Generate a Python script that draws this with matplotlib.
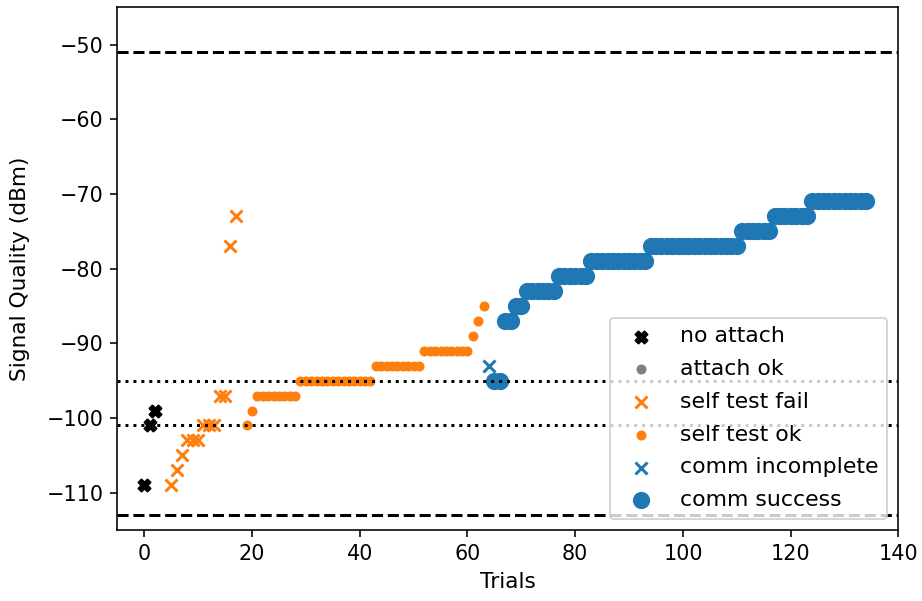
import matplotlib
matplotlib.use("Agg")
import matplotlib.pyplot as plt

# trials / signal quality (dBm) per outcome
no_attach_x = [0, 1, 2]
no_attach_y = [-109, -101, -99]

attach_ok_x = []
attach_ok_y = []

self_fail_x = [5, 6, 7, 8, 9, 10, 11, 12, 13, 14, 15, 16, 17]
self_fail_y = [-109, -107, -105, -103, -103, -103, -101, -101, -101, -97, -97, -77, -73]

self_ok_x = [19, 20,
             21, 22, 23, 24, 25, 26, 27, 28,
             29, 30, 31, 32, 33, 34, 35, 36, 37, 38, 39, 40, 41, 42,
             43, 44, 45, 46, 47, 48, 49, 50, 51,
             52, 53, 54, 55, 56, 57, 58, 59, 60,
             61, 62, 63]
self_ok_y = [-101, -99,
             -97, -97, -97, -97, -97, -97, -97, -97,
             -95, -95, -95, -95, -95, -95, -95, -95, -95, -95, -95, -95, -95, -95,
             -93, -93, -93, -93, -93, -93, -93, -93, -93,
             -91, -91, -91, -91, -91, -91, -91, -91, -91,
             -89, -87, -85]

comm_inc_x = [64]
comm_inc_y = [-93]

comm_ok_x = [65, 66, 67, 68, 69, 70,
             71, 72, 73, 74, 75, 76,
             77, 78, 79, 80, 81, 82,
             83, 84, 85, 86, 87, 88, 89, 90, 91, 92, 93,
             94, 95, 96, 97, 98, 99, 100, 101, 102, 103, 104, 105, 106, 107, 108, 109, 110,
             111, 112, 113, 114, 115, 116,
             117, 118, 119, 120, 121, 122, 123,
             124, 125, 126, 127, 128, 129, 130, 131, 132, 133, 134]
comm_ok_y = [-95, -95, -87, -87, -85, -85,
             -83, -83, -83, -83, -83, -83,
             -81, -81, -81, -81, -81, -81,
             -79, -79, -79, -79, -79, -79, -79, -79, -79, -79, -79,
             -77, -77, -77, -77, -77, -77, -77, -77, -77, -77, -77, -77, -77, -77, -77, -77, -77,
             -75, -75, -75, -75, -75, -75,
             -73, -73, -73, -73, -73, -73, -73,
             -71, -71, -71, -71, -71, -71, -71, -71, -71, -71, -71]

# reference levels
dashed_levels = [-51, -113]
dotted_levels = [-95, -101]

fig = plt.figure(figsize=(922 / 144, 601 / 144), dpi=144)
ax = fig.add_axes([0.1272, 0.1181, 0.8473, 0.8698])

ax.scatter(no_attach_x, no_attach_y, marker='X', color='k', s=36, label='no attach')
ax.scatter(attach_ok_x, attach_ok_y, marker='o', color='gray', s=16, label='attach ok')
ax.scatter(self_fail_x, self_fail_y, marker='x', color='C1', s=36, label='self test fail')
ax.scatter(self_ok_x, self_ok_y, marker='o', color='C1', s=16, label='self test ok')
ax.scatter(comm_inc_x, comm_inc_y, marker='x', color='C0', s=36, label='comm incomplete')
ax.scatter(comm_ok_x, comm_ok_y, marker='o', color='C0', s=58, label='comm success')

for lv in dashed_levels:
    ax.axhline(lv, color='k', linestyle='--')
for lv in dotted_levels:
    ax.axhline(lv, color='k', linestyle=':')

ax.set_xlim(-5, 140)
ax.set_ylim(-115, -45)
ax.tick_params(labelsize=10.4)
ax.set_xlabel('Trials', fontsize=10.8)
ax.set_ylabel('Signal Quality (dBm)', fontsize=10.8, labelpad=8)
ax.legend(loc='lower right', fontsize=11, labelspacing=0.58)

fig.savefig('out.png', dpi=144)
